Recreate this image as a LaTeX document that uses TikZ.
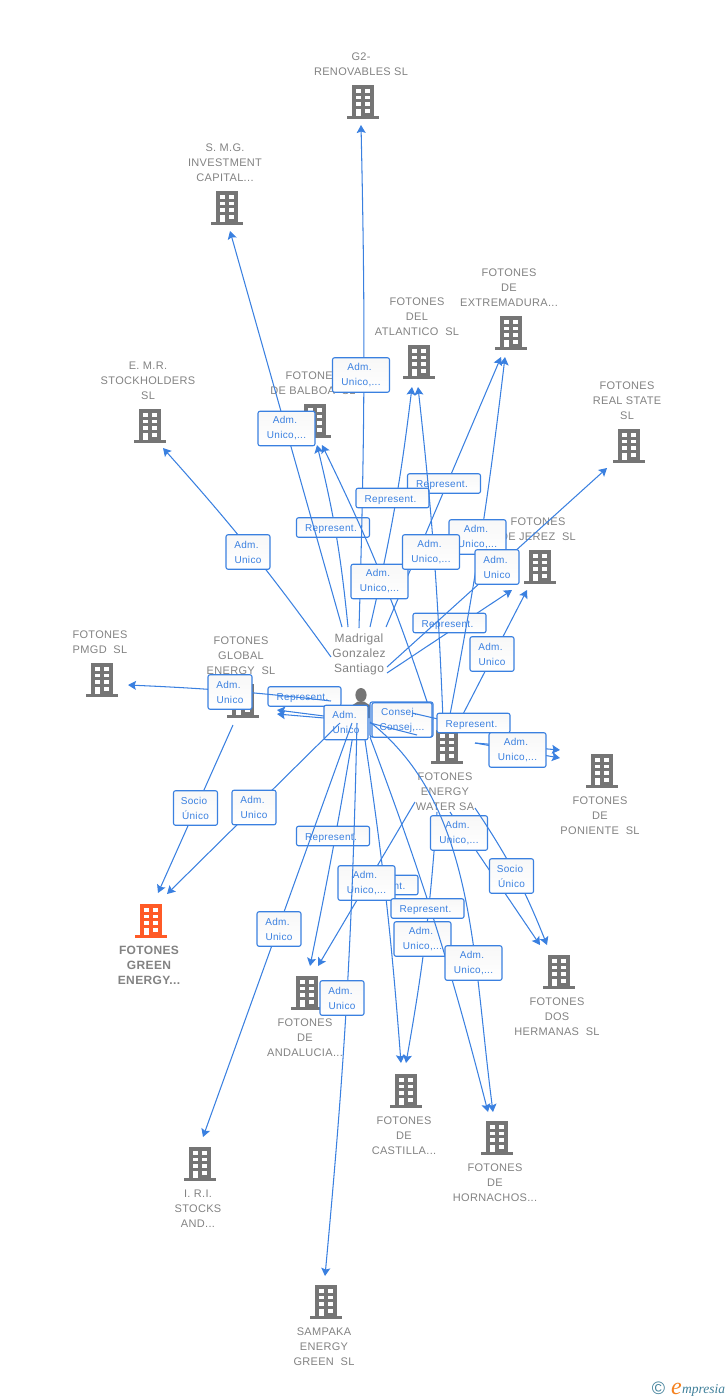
\documentclass[tikz,border=0pt]{standalone}
\usepackage{xcolor}
\usepackage{fontspec}
\setmainfont{Liberation Sans}[LetterSpace=3]
\newfontfamily\logofont{Liberation Serif}
\usetikzlibrary{arrows.meta, positioning}
\definecolor{edgeblue}{HTML}{3A80E0}
\definecolor{capgrey}{HTML}{828282}
\definecolor{bldgrey}{HTML}{757575}
\definecolor{bldorange}{HTML}{FF5A26}
\definecolor{logoteal}{HTML}{3F7F99}
\definecolor{logoorange}{HTML}{F58220}
\newcommand\admt{Adm.\hspace*{3pt}}
\newcommand\rept{Represent.\hspace*{4pt}}
\tikzset{
    capt/.style={align=center, inner sep=0pt, xshift=-2pt, text=capgrey, font=\fontsize{11}{15}\selectfont},
    bldg/.style={inner sep=0pt, minimum width=33pt, minimum height=35pt, path picture={
        \begin{scope}[shift={(path picture bounding box.center)}]
            \fill[#1] (-11,-17) rectangle (11,14);
            \fill[#1] (-16,13.5) rectangle (16,17);
            \foreach \wy in {-13.2,-6.5,0.2}
                \foreach \wx in {-7,2.4}
                    \fill[white] (\wx,\wy) rectangle ++(4.8,3.9);
            \fill[white] (-7,7) rectangle ++(4.8,6.5);
            \fill[white] (2.4,7) rectangle ++(4.8,4);
        \end{scope}}},
    bldg/.default=bldgrey,
    person/.style={inner sep=0pt, minimum width=26pt, minimum height=30pt, path picture={
        \begin{scope}[shift={(path picture bounding box.center)}]
            \fill[bldgrey] (0,-8) ellipse (5.6 and 7);
            \fill[bldgrey] (-10,15) -- (-10,3) -- (-3,-1.5) -- (3,-1.5) -- (10,3) -- (10,15) -- cycle;
        \end{scope}}},
    adm/.style={rectangle, rounded corners=2pt, draw=edgeblue, line width=1.1pt, top color=black!3, bottom color=white, inner sep=0pt, align=center, text=edgeblue, font=\fontsize{10}{15}\selectfont, minimum width=44pt, minimum height=34.5pt, execute at begin node={\rule{0pt}{11pt}}},
    admw/.style={adm, minimum width=57pt},
    rep/.style={adm, minimum width=73pt, minimum height=19.5pt},
    arrow/.style={edgeblue, line width=1.05pt, -{Stealth[length=8pt,width=9pt,inset=1.5pt]}},
    plain/.style={edgeblue, line width=1.05pt}
}
\begin{document}
\begin{tikzpicture}[x=1pt, y=-1pt]
    \useasboundingbox (0,0) rectangle (728,1400);

    \foreach \pname/\px/\py in {
        madG/359/628, tG/361/125, madS/342/627, tS/230/231, madBa/348/627, tBa/317/445,
        watBb/433/720, tBb/322/445, madAa/370/627, tAa/412/387, watAb/443/720, tAb/418/387,
        madEa/386/627, tEa/501/357, watEb/449/720, tEb/505/357, madJ/387/673, tJa/512/590,
        watJ/460/720, tJb/527/590, madR/387/667, tR/607/468, madM/331/657, tM/163/448,
        perP/331/701, tP/128/685, perGa/324/718, tGa/277/714, perGb/324/716, tGb/277/710,
        gloO/233/725, tOa/158/893, perO/340/723, tOb/167/894, perI/352/723, tI/203/1137,
        perAa/355/723, tAna/310/966, perH/357/723, tH/325/1276, watAb2/415/802, tAnb/318/966,
        perCa/365/740, tCa/401/1063, watCb/437/812, tCb/406/1063, perHa/370/737, tHa/488/1112,
        perHb/370/722, tHb/493/1112, watDa/475/808, tDa/547/945, watDb/450/812, tDb/540/945,
        watPo/475/743, tPa/560/750, tPb/560/758, perCo/370/723, tCo/417/735, perCp/412/713, tCp/438/719}
        \coordinate (\pname) at (\px,\py);

    \node[bldg] (g2) at (363,102) {};
    \node[bldg] (smg) at (227,208) {};
    \node[bldg] (extre) at (511,333) {};
    \node[bldg] (atlan) at (419,362) {};
    \node[bldg] (balboa) at (315,421) {};
    \node[bldg] (emr) at (150,426) {};
    \node[bldg] (realst) at (629,446) {};
    \node[bldg] (jerez) at (540,567) {};
    \node[bldg] (pmgd) at (102,680) {};
    \node[bldg] (global) at (243,701) {};
    \node[bldg] (water) at (447,747) {};
    \node[bldg] (ponie) at (602,771) {};
    \node[bldg=bldorange] (green) at (151,921) {};
    \node[bldg] (dosher) at (559,972) {};
    \node[bldg] (andal) at (307,993) {};
    \node[bldg] (casti) at (406,1091) {};
    \node[bldg] (horna) at (497,1138) {};
    \node[bldg] (iri) at (200,1164) {};
    \node[bldg] (sampa) at (326,1302) {};
    \node[person] (pers) at (361,703) {};

    \node[capt, above=8pt of g2] (g2cap) {G2-\\RENOVABLES SL};
    \node[capt, above=8pt of smg] (smgcap) {S. M.G.\\INVESTMENT\\CAPITAL...};
    \node[capt, above=8pt of extre] (extrecap) {FOTONES\\DE\\EXTREMADURA...};
    \node[capt, above=8pt of atlan] (atlancap) {FOTONES\\DEL\\ATLANTICO~~SL};
    \node[capt, above=8pt of balboa] (balboacap) {FOTONES\\DE BALBOA~~SL};
    \node[capt, above=8pt of emr] (emrcap) {E. M.R.\\STOCKHOLDERS\\SL};
    \node[capt, above=8pt of realst] (realstcap) {FOTONES\\REAL STATE\\SL};
    \node[capt, above=8pt of jerez] (jerezcap) {FOTONES\\DE JEREZ~~SL};
    \node[capt, above=8.5pt of pmgd] (pmgdcap) {FOTONES\\PMGD~~SL};
    \node[capt, above=8.5pt of global] (globalcap) {FOTONES\\GLOBAL\\ENERGY~~SL};
    \node[capt, below=7.5pt of water] (watercap) {FOTONES\\ENERGY\\WATER SA};
    \node[capt, below=8pt of ponie] (poniecap) {FOTONES\\DE\\PONIENTE~~SL};
    \node[capt, below=7pt of green, font=\fontsize{12}{15}\selectfont\bfseries] (greencap) {FOTONES\\GREEN\\ENERGY...};
    \node[capt, below=8pt of dosher] (doshercap) {FOTONES\\DOS\\HERMANAS~~SL};
    \node[capt, below=7.5pt of andal] (andalcap) {FOTONES\\DE\\ANDALUCIA...};
    \node[capt, below=7.5pt of casti] (casticap) {FOTONES\\DE\\CASTILLA...};
    \node[capt, below=8pt of horna] (hornacap) {FOTONES\\DE\\HORNACHOS...};
    \node[capt, below=8pt of iri] (iricap) {I. R.I.\\STOCKS\\AND...};
    \node[capt, below=7.5pt of sampa] (sampacap) {SAMPAKA\\ENERGY\\GREEN~~SL};
    \node[capt, xshift=2pt, font=\fontsize{12}{15}\selectfont] (mad) at (359,654) {Madrigal\\Gonzalez\\Santiago};

    \draw[arrow] (madBa) to[bend right=4] (tBa);
    \node[rep] (r1) at (333,527.5) {\rept};
    \draw[arrow] (madS) -- (tS);
    \node[admw] (a1) at (286.5,428.5) {\admt\\Unico,...};
    \draw[arrow] (madG) to[bend right=1.5] (tG);
    \draw[arrow] (madJ) -- (tJa);
    \node[rep] (r2) at (449.5,623) {\rept};
    \draw[arrow] (madEa) -- (tEa);
    \node[rep] (r3) at (444,483.5) {\rept};
    \draw[arrow] (madAa) to[bend right=3] (tAa);
    \node[rep] (r4) at (392.5,498) {\rept};
    \draw[arrow] (watEb) to[bend right=2] (tEb);
    \node[admw] (a2) at (477.5,537) {\admt\\Unico,...};
    \draw[arrow] (watAb) to[bend right=2] (tAb);
    \draw[arrow] (watBb) to[bend right=4] (tBb);
    \node[admw] (a3) at (379.5,581.5) {\admt\\Unico,...};
    \node[admw] (a4) at (431,552) {\admt\\Unico,...};
    \draw[arrow] (madR) -- (tR);
    \node[adm] (a5) at (497,567) {\admt\\Unico};
    \draw[arrow] (watJ) -- (tJb);
    \node[adm] (a6) at (492,654) {\admt\\Unico};
    \node[admw] (a7) at (361,375) {\admt\\Unico,...};
    \draw[arrow] (madM) to[bend right=3] (tM);
    \node[adm] (a8) at (248,552) {\admt\\Unico};

    \node[rep] (r5) at (304.5,696.5) {\rept};
    \draw[arrow] (perGa) -- (tGa);
    \draw[arrow] (perGb) -- (tGb);
    \draw[arrow] (perP) to[bend right=2] (tP);
    \node[adm] (a9) at (230,692) {\admt\\Unico};
    \draw[arrow] (perAa) to[bend left=1] (tAna);
    \node[rep] (r6) at (333,836) {\rept};
    \node[adm] (a10) at (346,722.5) {\admt\\Unico};
    \draw[arrow] (perCa) to[bend left=2] (tCa);
    \draw[arrow] (watAb2) -- (tAnb);
    \node[rep] (r7) at (381.5,885) {\rept};
    \node[admw] (a11) at (366.5,883) {\admt\\Unico,...};
    \draw[arrow] (perH) to[bend left=2] (tH);
    \node[adm] (a12) at (342,998) {\admt\\Unico};
    \draw[arrow] (perO) -- (tOb);
    \node[adm] (a13) at (254,807.5) {\admt\\Unico};
    \draw[arrow] (perI) -- (tI);
    \node[adm] (a14) at (279,929) {\admt\\Unico};
    \draw[arrow] (gloO) -- (tOa);
    \node[adm] (s1) at (195.5,808) {Socio\hspace*{3pt}\\Único};

    \node[admw, minimum width=63pt, minimum height=35pt] (c1) at (401.5,719.5) {};
    \node[admw, minimum width=60pt] (c2) at (402,720) {Consej.\hspace*{6pt}\\Consej,...};
    \draw[plain] (perCo) -- (tCo);
    \draw[plain] (perCp) -- (tCp);
    \node[rep] (r8) at (473.5,723) {\rept};
    \draw[arrow] (watPo) -- (tPa);
    \draw[arrow] (watPo) -- (tPb);
    \node[admw] (a15) at (517.5,750) {\admt\\Unico,...};
    \draw[arrow] (watCb) to[bend left=3] (tCb);
    \draw[arrow] (watDb) -- (tDb);
    \node[admw] (a16) at (459,833) {\admt\\Unico,...};
    \draw[arrow] (watDa) to[bend left=6] (tDa);
    \node[adm] (s2) at (511.5,876) {Socio\hspace*{3pt}\\Único};
    \node[admw] (a17) at (422.5,939) {\admt\\Unico,...};
    \draw[arrow] (perHa) to[bend left=3] (tHa);
    \node[rep] (r9) at (427.5,908.5) {\rept};
    \draw[arrow] (perHb) .. controls +(105,83) and +(-21,-161) .. (tHb);
    \node[admw] (a18) at (473.5,963) {\admt\\Unico,...};

    \node[inner sep=0pt, text=logoteal, font=\fontsize{18}{18}\selectfont] (logoc) at (658.5,1388.5) {©};
    \node[inner sep=0pt, anchor=base west, text=logoorange, font=\logofont\itshape\fontsize{24}{24}\selectfont] (logoe) at (671,1394) {e};
    \node[inner sep=0pt, anchor=base west, text=logoteal, font=\logofont\itshape\fontsize{13.5}{13.5}\selectfont] (logom) at (682,1393.5) {mpresia};
\end{tikzpicture}
\end{document}
